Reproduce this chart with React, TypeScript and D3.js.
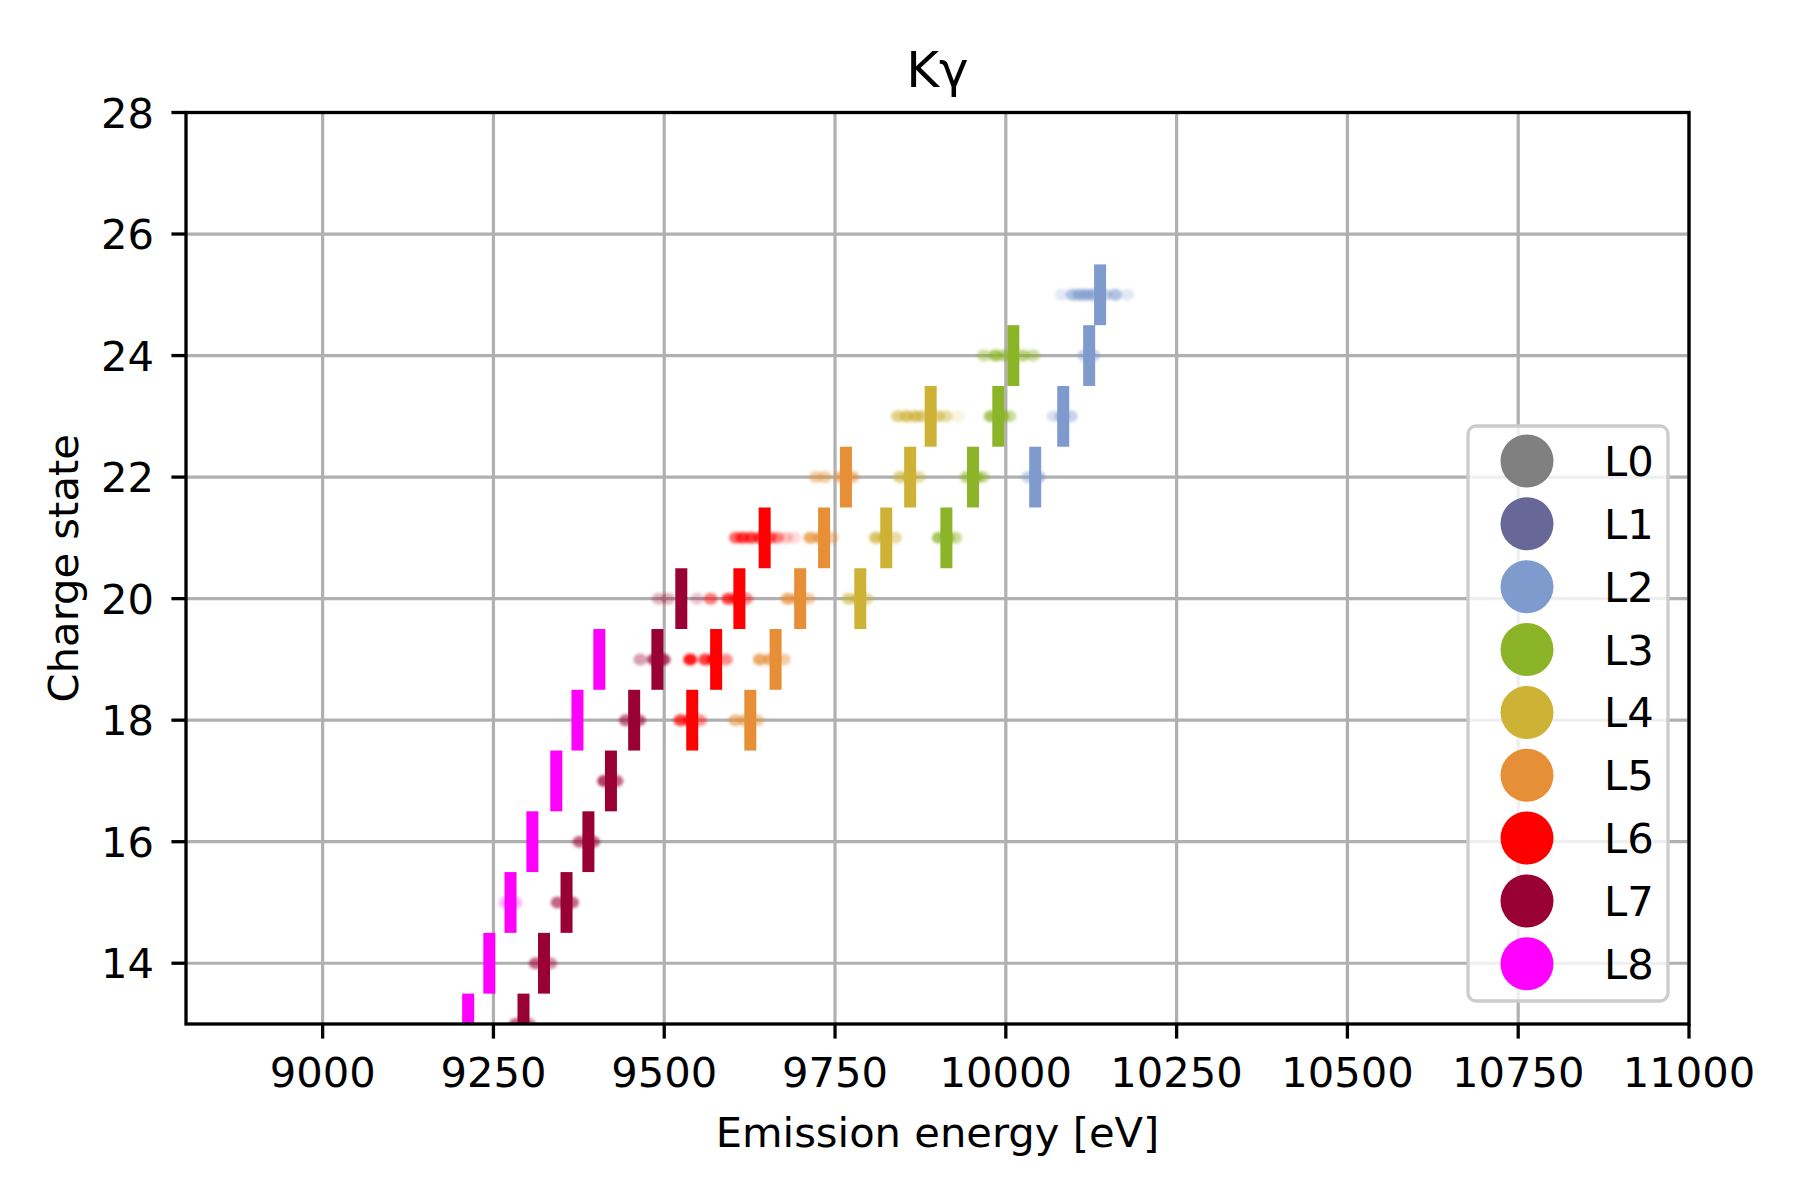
import React from "react";
import * as d3 from "d3";

const seriesNames = ["L0", "L1", "L2", "L3", "L4", "L5", "L6", "L7", "L8"];
const seriesColors = ["#808080", "#686898", "#7f9bcd", "#8cb428", "#cdb236", "#e68f37", "#ff0000", "#990033", "#ff00ff"];

// bar positions: [charge, energy]
const barsL2: [number, number][] = [[22, 10043], [23, 10084], [24, 10122], [25, 10138]];
const barsL3: [number, number][] = [[21, 9913], [22, 9952], [23, 9989], [24, 10011]];
const barsL4: [number, number][] = [[20, 9787], [21, 9825], [22, 9860], [23, 9890]];
const barsL5: [number, number][] = [[18, 9626], [19, 9663], [20, 9699], [21, 9734], [22, 9766]];
const barsL6: [number, number][] = [[18, 9541], [19, 9576], [20, 9610], [21, 9647]];
const barsL7: [number, number][] = [[13, 9294], [14, 9324], [15, 9357], [16, 9389], [17, 9422], [18, 9456], [19, 9490], [20, 9525]];
const barsL8: [number, number][] = [[13, 9213], [14, 9244], [15, 9275], [16, 9307], [17, 9342], [18, 9373], [19, 9405]];

// scatter dots: [charge, energy, alpha]
const dotsL2: [number, number, number][] = [
  [25, 10082, 0.15], [25, 10098, 0.4], [25, 10108, 0.5], [25, 10118, 0.5], [25, 10128, 0.5], [25, 10145, 0.3], [25, 10160, 0.4], [25, 10178, 0.15],
  [24, 10115, 0.3], [24, 10128, 0.3],
  [23, 10070, 0.2], [23, 10082, 0.4], [23, 10095, 0.3],
  [22, 10033, 0.3], [22, 10048, 0.4],
];
const dotsL3: [number, number, number][] = [
  [24, 9968, 0.3], [24, 9985, 0.5], [24, 9998, 0.4], [24, 10025, 0.4], [24, 10040, 0.3],
  [23, 9978, 0.5], [23, 9995, 0.5], [23, 10005, 0.3],
  [22, 9943, 0.4], [22, 9958, 0.5], [22, 9966, 0.3],
  [21, 9902, 0.5], [21, 9915, 0.5], [21, 9926, 0.3],
];
const dotsL4: [number, number, number][] = [
  [23, 9842, 0.4], [23, 9855, 0.5], [23, 9868, 0.5], [23, 9878, 0.4], [23, 9900, 0.4], [23, 9912, 0.3], [23, 9930, 0.1],
  [22, 9845, 0.4], [22, 9858, 0.5], [22, 9872, 0.3],
  [21, 9810, 0.5], [21, 9822, 0.5], [21, 9838, 0.3],
  [20, 9770, 0.4], [20, 9784, 0.5], [20, 9796, 0.3],
];
const dotsL5: [number, number, number][] = [
  [22, 9722, 0.3], [22, 9735, 0.3], [22, 9758, 0.4], [22, 9775, 0.4],
  [21, 9714, 0.5], [21, 9728, 0.5], [21, 9745, 0.3],
  [20, 9681, 0.5], [20, 9695, 0.4], [20, 9711, 0.3],
  [19, 9640, 0.5], [19, 9655, 0.5], [19, 9675, 0.3],
  [18, 9604, 0.4], [18, 9618, 0.4], [18, 9636, 0.3],
];
const dotsL6: [number, number, number][] = [
  [21, 9605, 0.4], [21, 9615, 0.5], [21, 9627, 0.5], [21, 9640, 0.5], [21, 9655, 0.4], [21, 9665, 0.3], [21, 9678, 0.15], [21, 9690, 0.1],
  [20, 9568, 0.35], [20, 9594, 0.5], [20, 9606, 0.5], [20, 9620, 0.3],
  [19, 9538, 0.6], [19, 9560, 0.5], [19, 9572, 0.6], [19, 9590, 0.3],
  [18, 9524, 0.5], [18, 9537, 0.5], [18, 9552, 0.3],
];
const dotsL7: [number, number, number][] = [
  [20, 9492, 0.2], [20, 9506, 0.2], [20, 9548, 0.15],
  [19, 9465, 0.25], [19, 9485, 0.5], [19, 9499, 0.5],
  [18, 9444, 0.4], [18, 9463, 0.4],
  [17, 9412, 0.5], [17, 9430, 0.4],
  [16, 9376, 0.4], [16, 9396, 0.4],
  [15, 9344, 0.4], [15, 9365, 0.4],
  [14, 9312, 0.4], [14, 9333, 0.3],
  [13, 9283, 0.4], [13, 9302, 0.3],
];
const dotsL8: [number, number, number][] = [[15, 9268, 0.2], [15, 9282, 0.2]];

const xTicks = [9000, 9250, 9500, 9750, 10000, 10250, 10500, 10750, 11000];
const yTicks = [14, 16, 18, 20, 22, 24, 26, 28];

const plotted = [
  { idx: 2, bars: barsL2, dots: dotsL2 },
  { idx: 3, bars: barsL3, dots: dotsL3 },
  { idx: 4, bars: barsL4, dots: dotsL4 },
  { idx: 5, bars: barsL5, dots: dotsL5 },
  { idx: 6, bars: barsL6, dots: dotsL6 },
  { idx: 7, bars: barsL7, dots: dotsL7 },
  { idx: 8, bars: barsL8, dots: dotsL8 },
];

export default function App() {
  const W = 1800, H = 1200;
  const left = 186, right = 1689, top = 112.5, bottom = 1024;
  const x = d3.scaleLinear().domain([8800, 11000]).range([left, right]);
  const y = d3.scaleLinear().domain([13, 28]).range([bottom, top]);
  const font = "DejaVu Sans, sans-serif";
  const fs = 41.67;
  const barW = 12;

  const legX = 1468, legY = 426, legW = 200, legH = 575;
  const legStep = 62.85;

  return (
    <svg width={W} height={H} style={{ position: "absolute", left: 0, top: 0, background: "#fff" }} fontFamily={font}>
      <defs>
        <clipPath id="plotclip">
          <rect x={left} y={top} width={right - left} height={bottom - top} />
        </clipPath>
        <filter id="blur" x="-50%" y="-50%" width="200%" height="200%">
          <feGaussianBlur stdDeviation="1.6" />
        </filter>
      </defs>
      <rect x={0} y={0} width={W} height={H} fill="#fff" />
      {/* grid */}
      <g stroke="#b0b0b0" strokeWidth={3.2}>
        {xTicks.map((t) => (
          <line key={"gx" + t} x1={x(t)} x2={x(t)} y1={top} y2={bottom} />
        ))}
        {yTicks.map((t) => (
          <line key={"gy" + t} x1={left} x2={right} y1={y(t)} y2={y(t)} />
        ))}
      </g>
      {/* data */}
      <g clipPath="url(#plotclip)">
        {plotted.map((s) => (
          <g key={"d" + s.idx} filter="url(#blur)">
            {s.dots.map(([q, e, a], i) => (
              <ellipse key={i} cx={x(e)} cy={y(q)} rx={7} ry={6} fill={seriesColors[s.idx]} fillOpacity={Math.min(1, a * 1.5)} />
            ))}
          </g>
        ))}
        {plotted.map((s) => (
          <g key={"b" + s.idx} fill={seriesColors[s.idx]}>
            {s.bars.map(([q, e], i) => (
              <rect key={i} x={x(e) - barW / 2} y={y(q + 0.5)} width={barW} height={y(q - 0.5) - y(q + 0.5)} />
            ))}
          </g>
        ))}
      </g>
      {/* spines */}
      <rect x={left} y={top} width={right - left} height={bottom - top} fill="none" stroke="#000" strokeWidth={3.3} />
      {/* x ticks */}
      {xTicks.map((t) => (
        <g key={"xt" + t}>
          <line x1={x(t)} x2={x(t)} y1={bottom} y2={bottom + 14.6} stroke="#000" strokeWidth={3.3} />
          <text x={x(t)} y={1087} textAnchor="middle" fontSize={fs} fill="#000">{t}</text>
        </g>
      ))}
      {/* y ticks */}
      {yTicks.map((t) => (
        <g key={"yt" + t}>
          <line x1={left - 14.6} x2={left} y1={y(t)} y2={y(t)} stroke="#000" strokeWidth={3.3} />
          <text x={154} y={y(t)} dy="0.36em" textAnchor="end" fontSize={fs} fill="#000">{t}</text>
        </g>
      ))}
      {/* labels */}
      <text x={(left + right) / 2} y={1147} textAnchor="middle" fontSize={fs} fill="#000">Emission energy [eV]</text>
      <text transform={`translate(78, ${(top + bottom) / 2}) rotate(-90)`} textAnchor="middle" fontSize={fs} fill="#000">Charge state</text>
      <text x={(left + right) / 2} y={87} textAnchor="middle" fontSize={50} fill="#000">Kγ</text>
      {/* legend */}
      <rect x={legX} y={legY} width={legW} height={legH} rx={8} ry={8} fill="#fff" fillOpacity={0.8} stroke="#cccccc" strokeWidth={3.3} />
      {seriesNames.map((n, i) => (
        <g key={"lg" + n}>
          <circle cx={1527} cy={461 + i * legStep} r={26.5} fill={seriesColors[i]} />
          <text x={1604} y={461 + i * legStep} dy="0.36em" fontSize={fs} fill="#000">{n}</text>
        </g>
      ))}
    </svg>
  );
}
